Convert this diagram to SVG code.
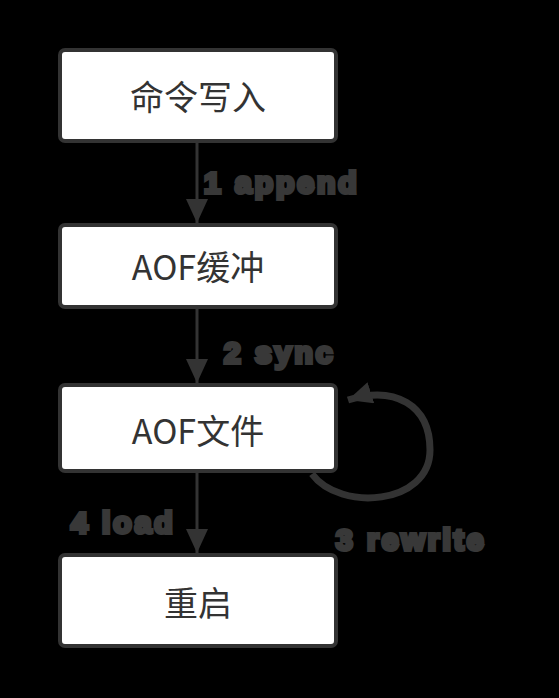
<svg xmlns="http://www.w3.org/2000/svg" width="559" height="698" viewBox="0 0 559 698">
<style>
.box{fill:#ffffff;stroke:#333333;stroke-width:4}
.t{font-family:"Noto Sans CJK SC","Liberation Sans",sans-serif;font-size:34px;fill:#333333;text-anchor:middle}
.c{fill:none;stroke:#333333;stroke-width:3}
.loop{fill:none;stroke:#333333;stroke-width:7}
.lbl{font-family:"Liberation Sans",Arial,sans-serif;font-weight:bold;font-size:30px;fill:#383838;stroke:#383838;stroke-width:4;letter-spacing:3px}
</style>
<defs>
<marker id="ah" markerUnits="userSpaceOnUse" markerWidth="24" markerHeight="22" viewBox="0 0 24 22" refX="24" refY="11" orient="auto">
<path d="M0,0 L24,11 L0,22 z" fill="#333333"/>
</marker>
</defs>
<rect x="0" y="0" width="559" height="698" fill="#000000"/>
<g id="connectors">
<line class="c" x1="197" y1="142" x2="197" y2="223" marker-end="url(#ah)"/>
<line class="c" x1="197" y1="307" x2="197" y2="383" marker-end="url(#ah)"/>
<line class="c" x1="197" y1="472" x2="197" y2="553" marker-end="url(#ah)"/>
<path class="loop" d="M 312 474 C 340 512, 430 505, 430 450 C 430 405, 395 385, 348 400" marker-end="url(#ah)"/>
<text class="lbl" x="204" y="193">1 append</text>
<text class="lbl" x="224" y="363">2 sync</text>
<text class="lbl" x="336" y="550">3 rewrite</text>
<text class="lbl" x="71" y="533">4 load</text>
</g>
<g id="node1">
<rect class="box" x="60" y="50" width="276" height="91" rx="5"/>
<text class="t" x="198" y="110">命令写入</text>
</g>
<g id="node2">
<rect class="box" x="60" y="225" width="276" height="82" rx="5"/>
<text class="t" x="198" y="280">AOF缓冲</text>
</g>
<g id="node3">
<rect class="box" x="60" y="385" width="276" height="86" rx="5"/>
<text class="t" x="198" y="444">AOF文件</text>
</g>
<g id="node4">
<rect class="box" x="60" y="555" width="276" height="91" rx="5"/>
<text class="t" x="198" y="616">重启</text>
</g>
</svg>
